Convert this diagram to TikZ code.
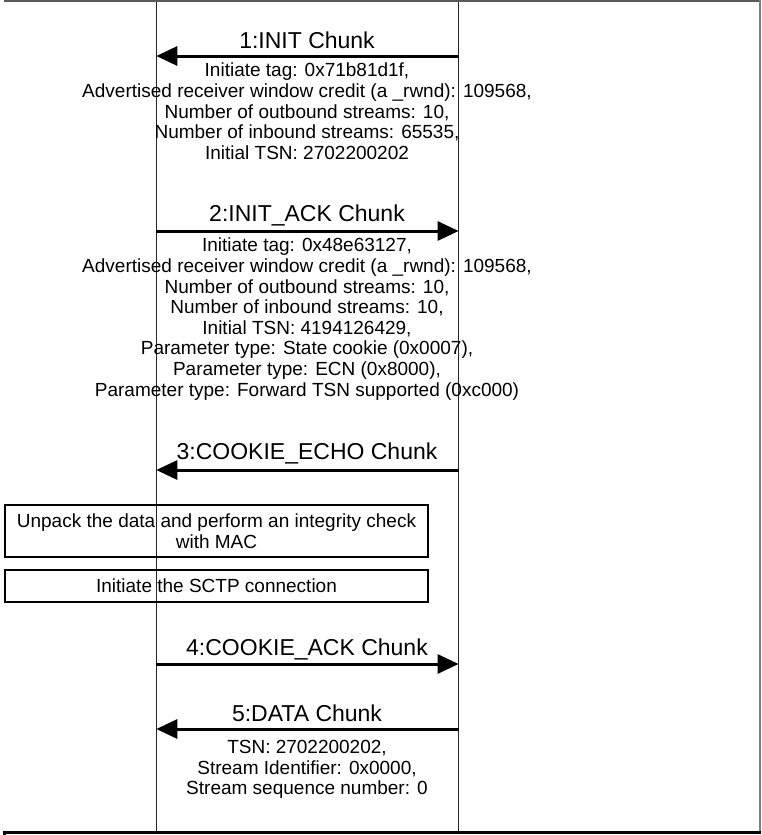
\documentclass[tikz,border=0pt]{standalone}
\usepackage{fontspec}
\setmainfont{Liberation Sans}
\usetikzlibrary{arrows.meta}

\begin{document}
\begin{tikzpicture}[x = 1pt, y = -1pt,
	lifeline/.style={line width=1.2pt, black!85},
	msg/.style={line width=3pt, -{Triangle[length=21pt, width=19pt]}},
	chunk/.style={font=\fontsize{23}{26}\selectfont, inner sep=0pt, anchor=base},
	params/.style={font=\fontsize{19}{20.6}\selectfont, align=center, inner sep=0pt, anchor=north},
	action/.style={draw, line width=2.5pt, font=\fontsize{19}{20.6}\selectfont, align=center, minimum width=423pt, inner sep=0pt}]
	\useasboundingbox (0,0) rectangle (761,835);

	\coordinate (srvtop) at (156.3,0);
	\coordinate (srvbot) at (156.3,831);
	\coordinate (clitop) at (458.6,0);
	\coordinate (clibot) at (458.6,831);
	\draw[lifeline] (srvtop) -- (srvbot);
	\draw[lifeline] (clitop) -- (clibot);

	\draw[gray!70!black, line width=1.8pt] (4,1) -- (761,1);
	\draw[gray, line width=2pt] (759.5,0) -- (759.5,831);
	\draw[line width=3pt] (4.5,835) -- (4.5,832.5) -- (761,832.5);

	\coordinate (cli1) at (458.6,56);
	\coordinate (srv1) at (156.3,56);
	\draw[msg] (cli1) -- (srv1);
	\node[chunk] (init) at (307,48.2) {1:INIT Chunk};
	\node[params] (initpar) at (307,63) {Initiate tag: 0x71b81d1f,\\
		Advertised receiver window credit (a \_rwnd): 109568,\\
		Number of outbound streams: 10,\\
		Number of inbound streams: 65535,\\
		Initial TSN: 2702200202};

	\coordinate (srv2) at (156.3,231);
	\coordinate (cli2) at (458.6,231);
	\draw[msg] (srv2) -- (cli2);
	\node[chunk] (initack) at (307,221.2) {2:INIT\_ACK Chunk};
	\node[params] (initackpar) at (307,238) {Initiate tag: 0x48e63127,\\
		Advertised receiver window credit (a \_rwnd): 109568,\\
		Number of outbound streams: 10,\\
		Number of inbound streams: 10,\\
		Initial TSN: 4194126429,\\
		Parameter type: State cookie (0x0007),\\
		Parameter type: ECN (0x8000),\\
		Parameter type: Forward TSN supported (0xc000)};

	\coordinate (cli3) at (458.6,470);
	\coordinate (srv3) at (156.3,470);
	\draw[msg] (cli3) -- (srv3);
	\node[chunk] (echo) at (307,459.9) {3:COOKIE\_ECHO Chunk};

	\node[action, minimum height=52pt] (unpack) at (216.5,531) {Unpack the data and perform an integrity check\\ with MAC};
	\node[action, minimum height=32pt] (connect) at (216.5,586) {Initiate the SCTP connection};

	\coordinate (srv4) at (156.3,664);
	\coordinate (cli4) at (458.6,664);
	\draw[msg] (srv4) -- (cli4);
	\node[chunk] (cookieack) at (307,655.2) {4:COOKIE\_ACK Chunk};

	\coordinate (cli5) at (458.6,729);
	\coordinate (srv5) at (156.3,729);
	\draw[msg] (cli5) -- (srv5);
	\node[chunk] (data) at (307,721.2) {5:DATA Chunk};
	\node[params] (datapar) at (307,740) {TSN: 2702200202,\\
		Stream Identifier: 0x0000,\\
		Stream sequence number: 0};
\end{tikzpicture}
\end{document}
